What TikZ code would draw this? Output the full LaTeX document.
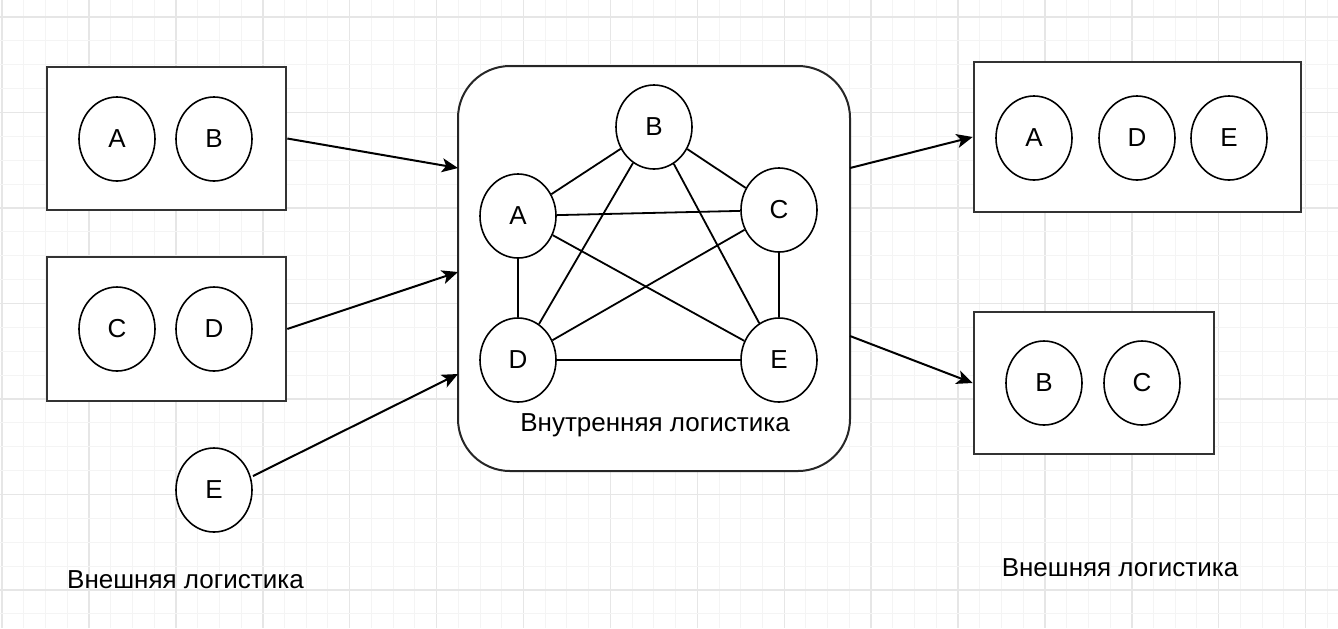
\documentclass[tikz,border=0pt]{standalone}
\usepackage{fontspec}
\setmainfont{Liberation Sans}
\usetikzlibrary{shapes.geometric,arrows.meta}
\definecolor{gridminor}{HTML}{F4F4F4}
\definecolor{gridmajor}{HTML}{E6E6E6}
\definecolor{boxline}{HTML}{333333}
\tikzset{
  gminor/.style={draw=gridminor,line width=0.5pt},
  gmajor/.style={draw=gridmajor,line width=0.7pt},
  circ/.style={ellipse,draw=black,fill=white,line width=0.8pt,
    minimum width=38pt,minimum height=42pt,inner sep=0pt},
  cbox/.style={rectangle,draw=boxline,fill=white,line width=1.3pt,inner sep=0pt},
  hub/.style={rectangle,draw=black!85,fill=white,line width=1pt,rounded corners=26pt,
    minimum width=196pt,minimum height=202.5pt,inner sep=0pt},
  link/.style={line width=0.9pt,draw=black},
  flow/.style={line width=1pt,draw=black,-{Stealth[length=8pt,width=7pt,inset=2pt]}},
  lbl/.style={inner sep=0pt,text=black}
}
\begin{document}
\begin{tikzpicture}[x=0.5pt,y=-0.5pt,font=\fontsize{13pt}{15pt}\selectfont]
\useasboundingbox (0,0) rectangle (1338,628);
\fill[white] (0,0) rectangle (1338,628);
% background grid
\foreach \i in {0,...,61} {
  \pgfmathtruncatemacro{\m}{mod(\i,4)}
  \ifnum\m=0
    \draw[gmajor] ({2.1+21.725*\i},0) -- ({2.1+21.725*\i},628);
  \else
    \draw[gminor] ({2.1+21.725*\i},0) -- ({2.1+21.725*\i},628);
  \fi
}
\foreach \j in {0,...,26} {
  \pgfmathtruncatemacro{\m}{mod(\j,4)}
  \ifnum\m=0
    \draw[gmajor] (0,{17+23.875*\j}) -- (1338,{17+23.875*\j});
  \else
    \draw[gminor] (0,{17+23.875*\j}) -- (1338,{17+23.875*\j});
  \fi
}

% left containers
\node[cbox,minimum width=119.5pt,minimum height=71.5pt] (L1) at (166.5,138.5) {};
\node[cbox,minimum width=119.5pt,minimum height=72pt] (L2) at (166.5,329) {};
\node[circ] (L1a) at (117,139) {A};
\node[circ] (L1b) at (214,139) {B};
\node[circ] (L2c) at (117,329) {C};
\node[circ] (L2d) at (214,329) {D};
\node[circ] (Le) at (214,490) {E};

% internal logistics
\node[hub] (H) at (654,268.5) {};
\node[circ] (HB) at (654,127) {B};
\node[circ] (HA) at (518,216) {A};
\node[circ] (HC) at (779,210) {C};
\node[circ] (HD) at (518,360) {D};
\node[circ] (HE) at (779,360) {E};
\node[lbl] (Hl) at (655,425) {Внутренняя логистика};

\draw[link] (HA) -- (HB);
\draw[link] (HB) -- (HC);
\draw[link] (HA) -- (HC);
\draw[link] (HA) -- (HD);
\draw[link] (HA) -- (HE);
\draw[link] (HB) -- (HD);
\draw[link] (HB) -- (HE);
\draw[link] (HC) -- (HD);
\draw[link] (HC) -- (HE);
\draw[link] (HD) -- (HE);

% right containers
\node[cbox,minimum width=163.5pt,minimum height=75pt] (R1) at (1137.5,137) {};
\node[cbox,minimum width=120pt,minimum height=71pt] (R2) at (1094,383) {};
\node[circ] (R1a) at (1034,138) {A};
\node[circ] (R1d) at (1137,138) {D};
\node[circ] (R1e) at (1229,138) {E};
\node[circ] (R2b) at (1044,383) {B};
\node[circ] (R2c) at (1142,383) {C};

% labels
\node[lbl] (extL) at (185.5,580) {Внешняя логистика};
\node[lbl] (extR) at (1120,568) {Внешняя логистика};

% flow arrows
\coordinate (in1) at (458,168);
\coordinate (in2) at (458,272);
\coordinate (in3) at (458,374);
\coordinate (out1) at (850,168);
\coordinate (out2) at (850,336);
\coordinate (eStart) at (253,476);
\draw[flow] (L1.east) -- (in1);
\draw[flow] (L2.east) -- (in2);
\draw[flow] (eStart) -- (in3);
\draw[flow] (out1) -- (R1.west);
\draw[flow] (out2) -- (R2.west);
\end{tikzpicture}
\end{document}
